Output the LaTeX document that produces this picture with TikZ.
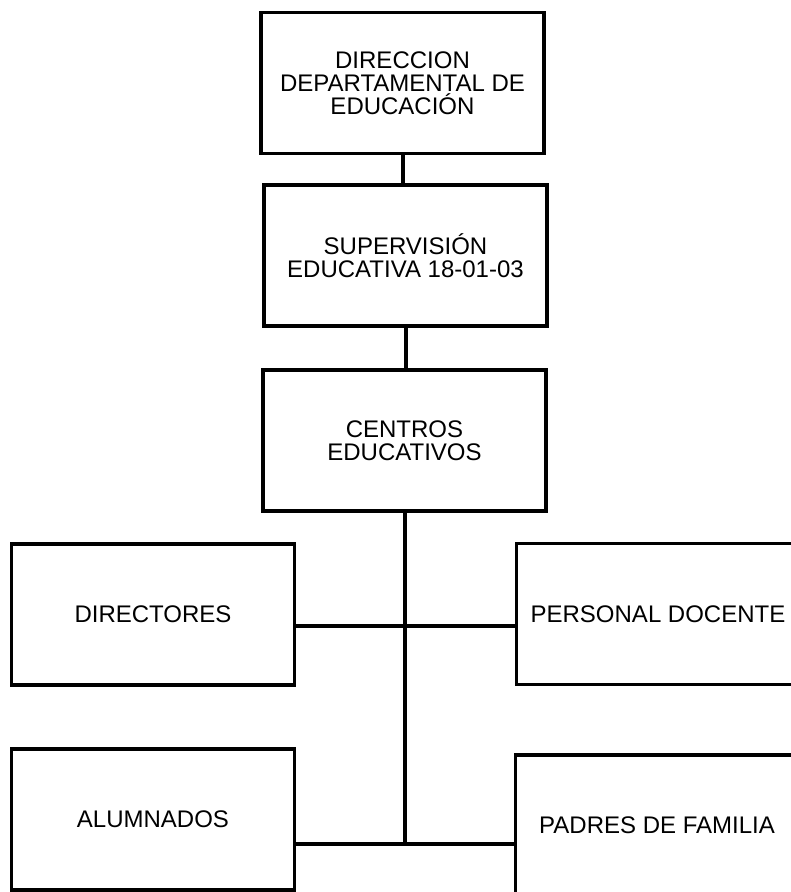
\documentclass[tikz,border=0pt]{standalone}
\usepackage{fontspec}
\setmainfont{Liberation Sans}
\usepackage{tikz}

\begin{document}
\begin{tikzpicture}[x=1pt,y=1pt,
            caja/.style={draw, line width=3.2pt, minimum width=283pt, minimum height=141pt,
              inner sep=0pt, align=center, font=\fontsize{24}{23}\selectfont},
            linea/.style={line width=4pt}]
            \useasboundingbox (0,0) rectangle (791,-892);
            \clip (0,0) rectangle (791,-892);

            \node[caja] (dir) at (402.5,-83) {DIRECCION\\DEPARTAMENTAL DE\\EDUCACIÓN};
            \node[caja] (sup) at (405.5,-255.5) {SUPERVISIÓN\\EDUCATIVA 18-01-03};
            \node[caja] (cen) at (404.5,-440.5) {CENTROS\\EDUCATIVOS};
            \node[caja] (dire) at (153,-614.5) {DIRECTORES};
            \node[caja] (doc) at (658,-614) {PERSONAL DOCENTE};
            \node[caja] (alu) at (153,-819.5) {ALUMNADOS};
            \node[caja] (pad) at (657,-825.5) {PADRES DE FAMILIA};

            \coordinate (n1) at (404.5,-626);
            \coordinate (n2) at (404.5,-844);

            \draw[linea] (dir.south) -- (dir.south |- sup.north);
            \draw[linea] (sup.south) -- (sup.south |- cen.north);
            \draw[linea] (cen.south) -- (n2);
            \draw[linea] (dire.east |- n1) -- (doc.west |- n1);
            \draw[linea] (alu.east |- n2) -- (pad.west |- n2);

        \end{tikzpicture}
\end{document}
